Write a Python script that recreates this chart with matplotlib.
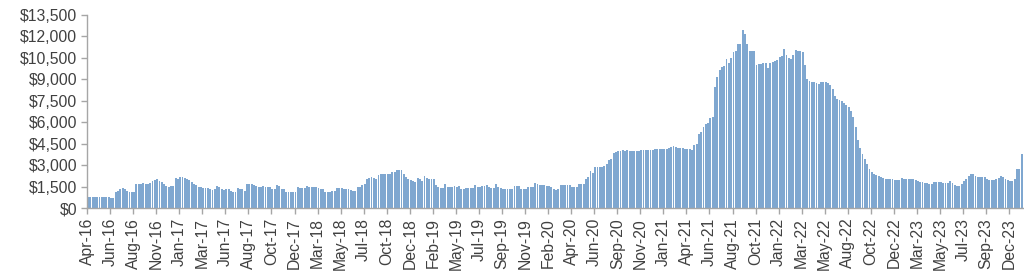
import matplotlib
matplotlib.use("Agg")
import matplotlib.pyplot as plt
from matplotlib.ticker import FuncFormatter

plt.rcParams['font.family'] = ['Liberation Sans', 'DejaVu Sans']

# Weekly values (USD), Apr-2016 .. Dec-2023
values_2016_2017 = [
    790, 780, 800, 810, 810, 800, 810, 790, 800, 760,
    720, 700, 1150, 1230, 1330, 1380, 1300, 1200, 1150, 1140,
    1150, 1650, 1700, 1700, 1720, 1700, 1700, 1720, 1900, 1950,
    2000, 1900, 1800, 1650, 1550, 1500, 1520, 1550, 2100, 2050,
    2200, 2150, 2100, 2050, 1950, 1850, 1700, 1600, 1500, 1450,
    1400, 1370, 1380, 1350, 1260, 1300, 1540, 1470, 1300, 1240,
    1330, 1300, 1170, 1100, 1150, 1400, 1330, 1300, 1170, 1650,
    1650, 1650, 1620, 1520, 1500, 1500, 1530, 1480, 1460, 1450,
    1330, 1350, 1620, 1550, 1350, 1320, 1150, 1100, 1100, 1120,
]
values_2018_2019 = [
    1150, 1450, 1420, 1400, 1400, 1520, 1500, 1500, 1480, 1470,
    1400, 1350, 1300, 1150, 1140, 1160, 1200, 1200, 1420, 1400,
    1370, 1350, 1300, 1320, 1250, 1200, 1220, 1450, 1500, 1620,
    1650, 2050, 2100, 2150, 2100, 2050, 2300, 2350, 2350, 2350,
    2360, 2380, 2550, 2550, 2650, 2680, 2650, 2400, 2150, 2050,
    1950, 1900, 1850, 2100, 2000, 1900, 2250, 2100, 2050, 2050,
    2000, 1600, 1500, 1420, 1400, 1650, 1500, 1500, 1500, 1520,
    1500, 1520, 1350, 1330, 1400, 1420, 1400, 1400, 1600, 1500,
    1500, 1520, 1550, 1600, 1450, 1400, 1400, 1650, 1500, 1400,
    1350, 1350, 1350, 1330, 1300, 1550, 1550, 1560, 1350, 1330,
    1300, 1500, 1500, 1500, 1750, 1650, 1600, 1600, 1580, 1560,
]
values_2020_2021 = [
    1550, 1500, 1300, 1280, 1350, 1600, 1620, 1620, 1600, 1600,
    1500, 1480, 1500, 1700, 1680, 1650, 2050, 2150, 2600, 2450,
    2850, 2900, 2900, 2900, 2950, 3050, 3350, 3450, 3850, 3950,
    4000, 4000, 4030, 4000, 4050, 4000, 4000, 4020, 4000, 4020,
    4030, 4050, 4050, 4060, 4060, 4080, 4100, 4120, 4130, 4130,
    4130, 4150, 4200, 4300, 4350, 4300, 4200, 4200, 4180, 4150,
    4150, 4120, 4080, 4400, 4450, 5200, 5300, 5700, 5900, 5950,
    6300, 6350, 8450, 9150, 9650, 9850, 9950, 10450, 10150, 10500,
    10900, 11000, 11450, 11500, 12450, 12200, 11450, 11000, 10950, 10950,
    10000, 10050, 10050, 10150, 10150, 9800, 10150, 10200, 10300, 10350,
]
values_2022_2023 = [
    10550, 10600, 11150, 10700, 10500, 10450, 10700, 11050, 11000, 11000,
    10900, 10000, 9050, 8850, 8800, 8800, 8750, 8700, 8780, 8800,
    8800, 8750, 8600, 8350, 7800, 7650, 7550, 7450, 7350, 7200,
    7050, 6800, 6350, 5700, 4750, 4200, 3800, 3450, 3050, 2700,
    2500, 2400, 2300, 2250, 2150, 2100, 2050, 2000, 2000, 2000,
    1980, 1960, 1960, 2070, 2050, 2030, 2020, 2000, 2000, 1950,
    1880, 1850, 1850, 1770, 1760, 1700, 1700, 1800, 1800, 1800,
    1790, 1780, 1780, 1770, 1880, 1750, 1600, 1560, 1560, 1650,
    1900, 2000, 2250, 2350, 2350, 2250, 2200, 2200, 2180, 2150,
    2000, 1980, 1970, 1970, 2050, 2100, 2250, 2150, 2000, 1950,
    1920, 1920, 2000, 2700, 2750, 3800,
]

tick_labels = [
    "Apr-16", "Jun-16", "Aug-16", "Nov-16", "Jan-17", "Mar-17", "Jun-17",
    "Aug-17", "Oct-17", "Dec-17", "Mar-18", "May-18", "Jul-18", "Oct-18",
    "Dec-18", "Feb-19", "May-19", "Jul-19", "Sep-19", "Nov-19", "Feb-20",
    "Apr-20", "Jun-20", "Sep-20", "Nov-20", "Jan-21", "Apr-21", "Jun-21",
    "Aug-21", "Oct-21", "Jan-22", "Mar-22", "May-22", "Aug-22", "Oct-22",
    "Dec-22", "Mar-23", "May-23", "Jul-23", "Sep-23", "Dec-23",
]
weeks_per_tick = 10

values = values_2016_2017 + values_2018_2019 + values_2020_2021 + values_2022_2023
n = len(values)
x = list(range(n))

fig = plt.figure(figsize=(10.24, 2.76), dpi=100)
ax = fig.add_axes([0.085, 0.246, 0.914, 0.700])

ax.bar(x, values, width=0.82, align='edge', color='#7fa7d0', edgecolor='none')

ax.set_xlim(0, n)
ax.set_ylim(0, 13500)
ax.set_yticks(range(0, 13501, 1500))
ax.yaxis.set_major_formatter(FuncFormatter(lambda v, p: f"${int(v):,}"))

ax.set_xticks([i * weeks_per_tick for i in range(len(tick_labels))])
ax.set_xticklabels(tick_labels, rotation=90)

for s in ['top', 'right']:
    ax.spines[s].set_visible(False)
for s in ['left', 'bottom']:
    ax.spines[s].set_color('#a6a6a6')
    ax.spines[s].set_linewidth(1.0)

ax.tick_params(axis='both', colors='#a6a6a6', length=4, width=1.0,
               labelcolor='#404040', labelsize=11.3)
ax.tick_params(axis='x', pad=3)
ax.tick_params(axis='y', pad=3)

fig.savefig("out.png", dpi=100)
